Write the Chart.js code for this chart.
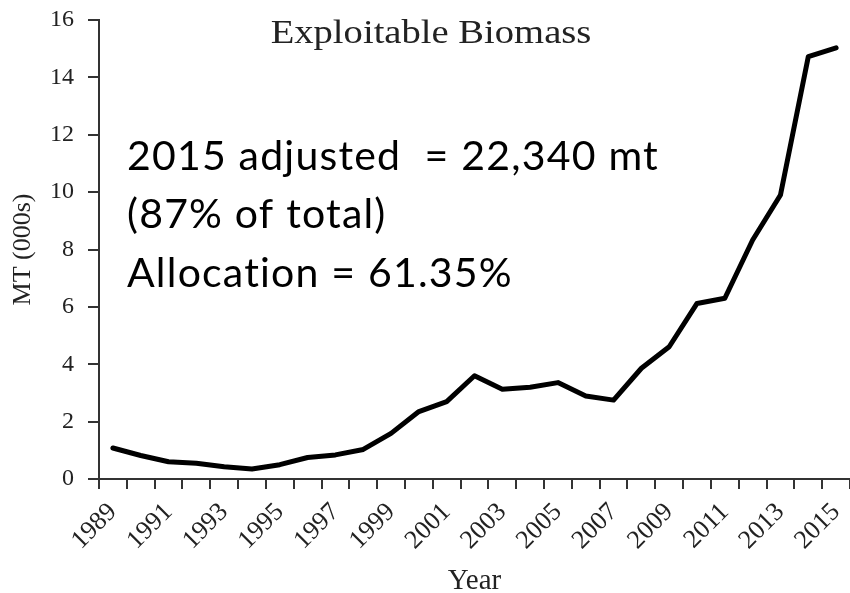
<!DOCTYPE html>
<html>
<head>
<meta charset="utf-8">
<script src="https://cdn.jsdelivr.net/npm/chart.js"></script>
<style>
  html, body { margin: 0; padding: 0; background: #fff; }
  #wrap { width: 850px; height: 593px; position: relative; }
</style>
</head>
<body>
<div id="wrap"><canvas id="biomassChart"></canvas></div>
<script>
// Chart data
const years = ['1989', '1990', '1991', '1992', '1993', '1994', '1995', '1996', '1997',
    '1998', '1999', '2000', '2001', '2002', '2003', '2004', '2005', '2006', '2007',
    '2008', '2009', '2010', '2011', '2012', '2013', '2014', '2015'];
const biomass = [1.08, 0.82, 0.6, 0.55, 0.43, 0.35, 0.5, 0.75, 0.84, 1.03, 1.59, 2.35,
    2.7, 3.6, 3.13, 3.2, 3.36, 2.89, 2.75, 3.86, 4.61, 6.12, 6.3, 8.33, 9.9, 14.72, 15.03];
const labelYears = ['1989', '1991', '1993', '1995', '1997', '1999', '2001', '2003',
    '2005', '2007', '2009', '2011', '2013', '2015'];
const yTicks = [0, 2, 4, 6, 8, 10, 12, 14, 16];

const chartTitle = 'Exploitable Biomass';
const noteLines = ['2015 adjusted  = 22,340 mt', '(87% of total)', 'Allocation = 61.35%'];

const axisColor = '#333333';
const serif = "'Liberation Serif', 'Times New Roman', serif";

// Title and the text note are drawn over the plot area
const overlayText = {
    id: 'overlayText',
    afterDraw(chart) {
        const ctx = chart.ctx;
        ctx.save();
        ctx.fillStyle = '#222';
        ctx.font = '33px ' + serif;
        ctx.textAlign = 'center';
        ctx.textBaseline = 'alphabetic';
        ctx.translate(431, 43);
        ctx.scale(1.17, 1);
        ctx.fillText(chartTitle, 0, 0);
        ctx.restore();

        ctx.save();
        ctx.fillStyle = '#000';
        ctx.font = "41px Lato, 'Open Sans', sans-serif";
        ctx.letterSpacing = '1.2px';
        ctx.textAlign = 'left';
        ctx.textBaseline = 'alphabetic';
        const baselines = [170, 228, 287];
        noteLines.forEach((line, i) => ctx.fillText(line, 127, baselines[i]));
        ctx.restore();
    }
};

new Chart(document.getElementById('biomassChart'), {
    type: 'line',
    data: {
        labels: years,
        datasets: [{
            label: 'Exploitable Biomass',
            data: biomass,
            borderColor: '#000',
            borderWidth: 5,
            pointRadius: 0,
            tension: 0,
            borderJoinStyle: 'round',
            borderCapStyle: 'round'
        }]
    },
    options: {
        responsive: true,
        maintainAspectRatio: false,
        animation: false,
        layout: { padding: { top: 20, right: 0, bottom: 0, left: 0 } },
        plugins: {
            legend: { display: false },
            tooltip: { enabled: false }
        },
        scales: {
            x: {
                type: 'category',
                offset: true,
                afterFit: (scale) => {
                    scale.height = 114;
                    scale.paddingLeft = 0;
                    scale.paddingRight = 0;
                },
                grid: {
                    offset: true,
                    drawOnChartArea: false,
                    drawTicks: true,
                    tickLength: 10,
                    tickColor: axisColor,
                    lineWidth: 2
                },
                border: { display: true, color: axisColor, width: 2 },
                ticks: {
                    autoSkip: false,
                    minRotation: 45,
                    maxRotation: 45,
                    padding: 8,
                    color: '#222',
                    font: { family: serif, size: 26 },
                    callback: function (value) {
                        const lbl = this.getLabelForValue(value);
                        return labelYears.includes(lbl) ? lbl : '';
                    }
                },
                title: {
                    display: true,
                    text: 'Year',
                    color: '#222',
                    font: { family: serif, size: 29 },
                    padding: { top: 0, bottom: -6 }
                }
            },
            y: {
                min: 0,
                max: 16,
                afterFit: (scale) => {
                    scale.width = 99;
                    scale.paddingTop = 0;
                    scale.paddingBottom = 0;
                },
                afterBuildTicks: (scale) => { scale.ticks = yTicks.map(v => ({ value: v })); },
                grid: {
                    drawOnChartArea: false,
                    drawTicks: true,
                    tickLength: 11,
                    tickColor: axisColor,
                    lineWidth: 2
                },
                border: { display: true, color: axisColor, width: 2 },
                ticks: {
                    padding: 14,
                    color: '#222',
                    font: { family: serif, size: 24 }
                },
                title: {
                    display: true,
                    text: 'MT (000s)',
                    color: '#222',
                    font: { family: serif, size: 26 },
                    padding: { top: 8, bottom: 0 }
                }
            }
        }
    },
    plugins: [overlayText]
});
</script>
</body>
</html>
